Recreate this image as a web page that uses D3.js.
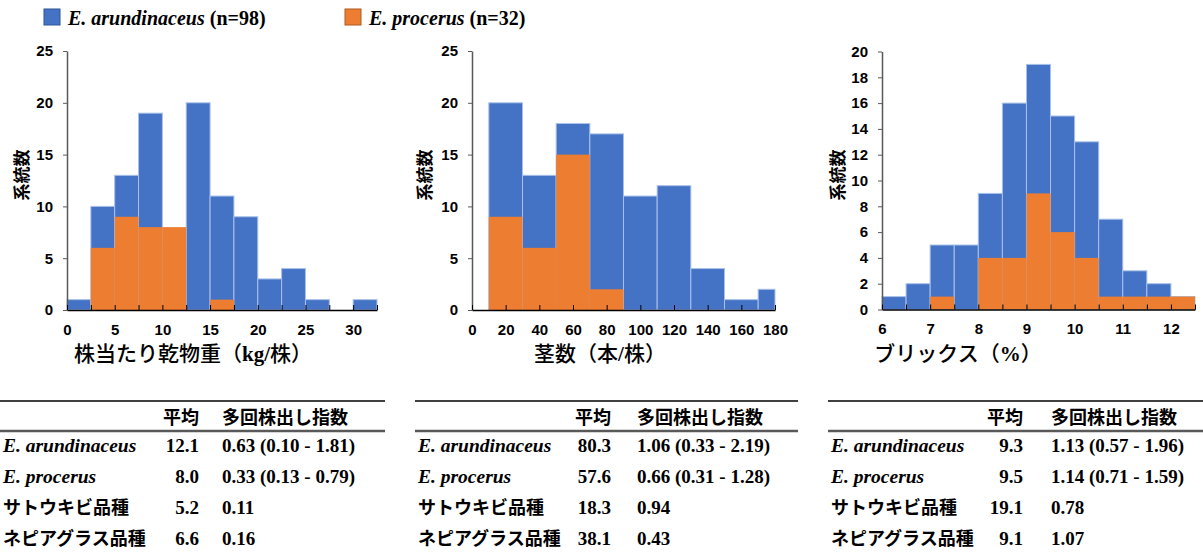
<!DOCTYPE html>
<html>
<head>
<meta charset="utf-8">
<script src="https://cdn.jsdelivr.net/npm/d3@7"></script>
<style>
  body { margin: 0; background: #fff; }
  .tick text { font-family: "Liberation Sans", Arial, sans-serif; font-weight: bold; font-size: 15px; fill: #000; }
  .jp { font-family: "Noto Sans CJK JP", sans-serif; }
  .tm { font-family: "Liberation Serif", "Times New Roman", serif; font-weight: bold; }
</style>
</head>
<body>
<div id="chart"></div>
<script>
const W = 1203, H = 552;
const colorArund = '#4472c4', colorProc = '#ed7d31'

// histogram data: bin edges + counts (overlapping, not stacked)
const dryEdges = [0, 2.5, 5, 7.5, 10, 12.5, 15, 17.5, 20, 22.5, 25, 27.5, 30, 32.5]
const dryArund = [1, 10, 13, 19, 6, 20, 11, 9, 3, 4, 1, 0, 1]
const dryProc = [0, 6, 9, 8, 8, 0, 1, 0, 0, 0, 0, 0, 0]
const dryXLabels = [0, 5, 10, 15, 20, 25, 30]
const dryYTicks = [0, 5, 10, 15, 20, 25]

const stemEdges = [10, 30, 50, 70, 90, 110, 130, 150, 170, 180]
const stemArund = [20, 13, 18, 17, 11, 12, 4, 1, 2]
const stemProc = [9, 6, 15, 2, 0, 0, 0, 0, 0]
const stemXTicks = [0, 20, 40, 60, 80, 100, 120, 140, 160, 180]
const stemXLabels = [0, 20, 40, 60, 80, 100, 120, 140, 160, 180]
const stemYTicks = [0, 5, 10, 15, 20, 25]

const brixEdges = [6, 6.5, 7, 7.5, 8, 8.5, 9, 9.5, 10, 10.5, 11, 11.5, 12, 12.5]
const brixArund = [1, 2, 5, 5, 9, 16, 19, 15, 13, 7, 3, 2, 1]
const brixProc = [0, 0, 1, 0, 4, 4, 9, 6, 4, 1, 1, 1, 1]
const brixXLabels = [6, 7, 8, 9, 10, 11, 12]
const brixYTicks = [0, 2, 4, 6, 8, 10, 12, 14, 16, 18, 20]

// tables
const rowNames = ['E. arundinaceus', 'E. procerus', 'サトウキビ品種', 'ネピアグラス品種']
const rowItalic = [true, true, false, false]
const dryMean = ['12.1', '8.0', '5.2', '6.6']
const dryIndex = ['0.63 (0.10 - 1.81)', '0.33 (0.13 - 0.79)', '0.11', '0.16']
const stemMean = ['80.3', '57.6', '18.3', '38.1']
const stemIndex = ['1.06 (0.33 - 2.19)', '0.66 (0.31 - 1.28)', '0.94', '0.43']
const brixMean = ['9.3', '9.5', '19.1', '9.1']
const brixIndex = ['1.13 (0.57 - 1.96)', '1.14 (0.71 - 1.59)', '0.78', '1.07']

const svg = d3.select("#chart").append("svg")
    .attr("width", W).attr("height", H)
    .style("font-family", '"Liberation Serif", serif')

function DrawHist(p) {
    const x = d3.scaleLinear().domain(p.xDomain).range(p.xRange)
    const y = d3.scaleLinear().domain(p.yDomain).range(p.yRange)
    const g = svg.append("g")
    const bins = (counts) => counts.map((c, i) => ({ x0: p.edges[i], x1: p.edges[i + 1], c: c }))
        .filter(d => d.c > 0)
    g.selectAll("rect.arund").data(bins(p.arund)).join("rect")
        .attr("x", d => x(d.x0)).attr("width", d => x(d.x1) - x(d.x0))
        .attr("y", d => y(d.c)).attr("height", d => y(0) - y(d.c))
        .attr("fill", colorArund).attr("stroke", "#a9c1ea").attr("stroke-width", 1)
    g.selectAll("rect.proc").data(bins(p.proc)).join("rect")
        .attr("x", d => x(d.x0)).attr("width", d => x(d.x1) - x(d.x0))
        .attr("y", d => y(d.c)).attr("height", d => y(0) - y(d.c))
        .attr("fill", colorProc)
    // y axis
    const ya = g.append("g").attr("transform", "translate(" + p.xRange[0] + ",0)")
        .call(d3.axisLeft(y).tickValues(p.yTicks).tickSizeInner(4).tickSizeOuter(0).tickPadding(10))
    ya.select(".domain").attr("stroke", "#595959").attr("stroke-width", 1.5)
    ya.selectAll(".tick line").attr("stroke", "#595959")
    // x axis, ticks point up
    const xa = g.append("g").attr("transform", "translate(0," + p.yRange[0] + ")")
        .call(d3.axisBottom(x).tickValues(p.xTicks).tickSizeInner(-5).tickSizeOuter(0).tickPadding(14)
            .tickFormat(d => p.xLabels.includes(d) ? d : ""))
    xa.select(".domain").attr("stroke", "#000").attr("stroke-width", 1.5)
    xa.selectAll(".tick line").attr("stroke", "#000")
    // y title
    svg.append("text").attr("class", "jp")
        .attr("transform", "translate(" + p.yTitleX + ",175) rotate(-90)")
        .attr("text-anchor", "middle").attr("dominant-baseline", "central")
        .style("font-size", "17px").style("font-weight", "bold").text("系統数")
    // x title
    const t = svg.append("text").attr("x", p.titleX).attr("y", 361)
        .attr("text-anchor", "middle").style("font-size", "21px")
    p.title.forEach(s => t.append("tspan").attr("class", s[1] ? "tm" : "jp")
        .style("font-weight", s[1] ? "bold" : 500).text(s[0]))
}

function DrawTable(t) {
    const g = svg.append("g")
    g.append("line").attr("x1", t.x0).attr("x2", t.x1).attr("y1", 401).attr("y2", 401)
        .attr("stroke", "#000").attr("stroke-width", 1.5)
    g.append("line").attr("x1", t.x0).attr("x2", t.x1).attr("y1", 431).attr("y2", 431)
        .attr("stroke", "#595959").attr("stroke-width", 2.5)
    g.append("text").attr("class", "jp").attr("x", t.meanX).attr("y", 424).attr("text-anchor", "end")
        .style("font-size", "18px").style("font-weight", "bold").text("平均")
    g.append("text").attr("class", "jp").attr("x", t.idxX).attr("y", 424)
        .style("font-size", "18px").style("font-weight", "bold").text("多回株出し指数")
    const rowY = [452, 483, 514, 545]
    rowNames.forEach((n, i) => {
        g.append("text").attr("class", rowItalic[i] ? "tm" : "jp")
            .attr("x", t.labelX).attr("y", rowY[i])
            .style("font-size", rowItalic[i] ? "19.5px" : "18px")
            .style("font-style", rowItalic[i] ? "italic" : "normal")
            .style("font-weight", "bold").text(n)
        g.append("text").attr("class", "tm").attr("x", t.meanX).attr("y", rowY[i])
            .attr("text-anchor", "end").style("font-size", "19px").text(t.mean[i])
        g.append("text").attr("class", "tm").attr("x", t.idxX).attr("y", rowY[i])
            .style("font-size", "19px").text(t.index[i])
    })
}

// legend
const legend = [[colorArund, '#2f5597', 'E. arundinaceus', '(n=98)', 44], [colorProc, '#ae5a21', 'E. procerus', '(n=32)', 345]]
legend.forEach(l => {
    svg.append("rect").attr("x", l[4]).attr("y", 9).attr("width", 16).attr("height", 16)
        .attr("fill", l[0]).attr("stroke", l[1]).attr("stroke-width", 1)
    const t = svg.append("text").attr("class", "tm").attr("x", l[4] + 24).attr("y", 25).style("font-size", "20px")
    t.append("tspan").style("font-style", "italic").text(l[2])
    t.append("tspan").text(" " + l[3])
})

DrawHist({ edges: dryEdges, arund: dryArund, proc: dryProc, xDomain: [0, 32.5], xRange: [67, 377],
    yDomain: [0, 25], yRange: [310, 51], yTicks: dryYTicks, xTicks: dryEdges, xLabels: dryXLabels,
    yTitleX: 20, titleX: 193, title: [["株当たり乾物重（", 0], ["kg/", 1], ["株）", 0]] })
DrawHist({ edges: stemEdges, arund: stemArund, proc: stemProc, xDomain: [0, 180], xRange: [472, 775],
    yDomain: [0, 25], yRange: [310, 51], yTicks: stemYTicks, xTicks: stemXTicks, xLabels: stemXLabels,
    yTitleX: 423, titleX: 600, title: [["茎数（本", 0], ["/", 1], ["株）", 0]] })
DrawHist({ edges: brixEdges, arund: brixArund, proc: brixProc, xDomain: [6, 12.5], xRange: [882, 1195],
    yDomain: [0, 20], yRange: [309.5, 51.5], yTicks: brixYTicks, xTicks: brixEdges, xLabels: brixXLabels,
    yTitleX: 836, titleX: 958, title: [["ブリックス（", 0], ["%", 1], ["）", 0]] })

DrawTable({ x0: 0, x1: 385, labelX: 3, meanX: 199, idxX: 222, mean: dryMean, index: dryIndex })
DrawTable({ x0: 415, x1: 798, labelX: 418, meanX: 611, idxX: 637, mean: stemMean, index: stemIndex })
DrawTable({ x0: 828, x1: 1203, labelX: 831, meanX: 1023, idxX: 1051, mean: brixMean, index: brixIndex })
</script>
</body>
</html>
